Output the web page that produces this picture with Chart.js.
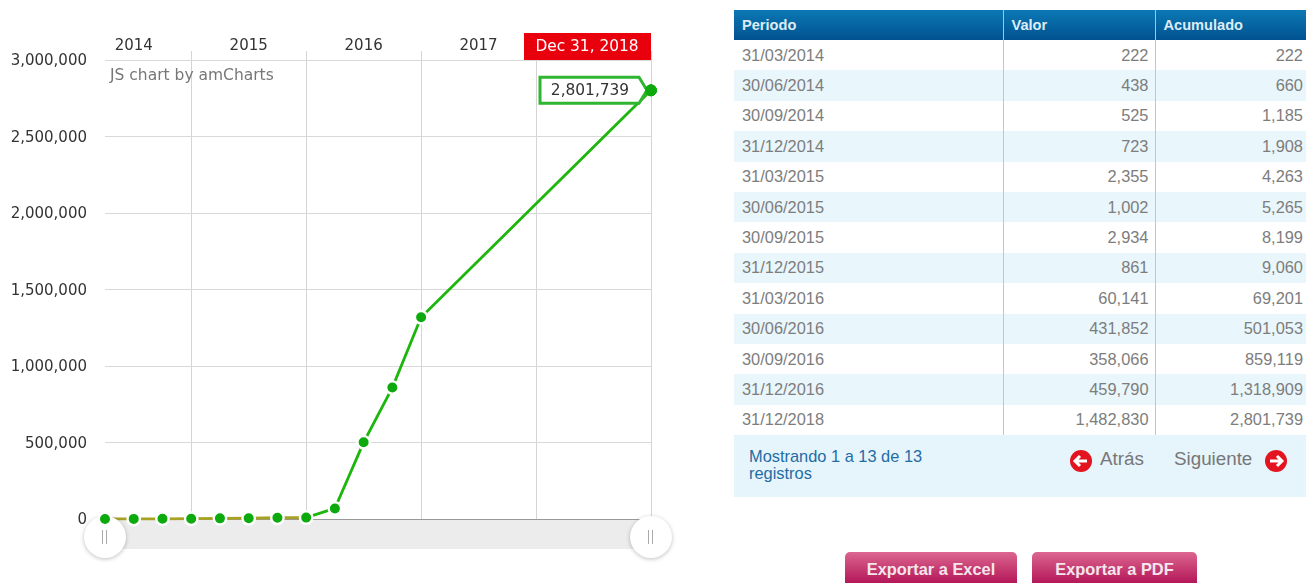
<!DOCTYPE html>
<html>
<head>
<meta charset="utf-8">
<title>Periodo</title>
<script src="https://cdn.jsdelivr.net/npm/chart.js@4"></script>
<style>
html, body { margin: 0; padding: 0; background: #fff; width: 1306px; height: 583px; overflow: hidden; }
#chartBox { position: absolute; left: 0; top: 0; width: 720px; height: 583px; }
#tablaBox { position: absolute; left: 734px; top: 10px; width: 572px; font-family: "Liberation Sans", Arial, sans-serif; }
table { border-collapse: collapse; width: 572px; table-layout: fixed; font-size: 16.4px; color: #7d7d7d; }
th { height: 30px; padding: 0 0 1px 8px; box-sizing: border-box; text-align: left; color: #dcecf6; font-size: 14.6px; background: linear-gradient(#0b78b5, #00528f); border-left: 1px solid #9cc8e6; }
th:first-child { border-left: 0; }
td { height: 30.4px; padding: 0 6px 0 8px; box-sizing: border-box; border-left: 1px solid #9fd0f0; text-align: right; }
td:last-child { padding-right: 3px; }
td:first-child { border-left: 0; text-align: left; }
tr.par td { background: #e9f6fc; }
#pie { position: relative; height: 62px; background: #e6f4fb; color: #777; }
#info { position: absolute; left: 15px; top: 13px; width: 200px; font-size: 16.4px; line-height: 17px; color: #1f6da5; }
.nav { position: absolute; top: 13px; font-size: 18.8px; line-height: 22px; }
.nav svg { position: absolute; top: 2px; }
.boton { position: absolute; top: 552px; height: 40px; box-sizing: border-box; padding-top: 8px; text-align: center; color: #f4e6ec; font: bold 16.4px "Liberation Sans", Arial, sans-serif; border-radius: 5px; background: linear-gradient(#dc6690, #a80048); }
</style>
</head>
<body>
<div id="chartBox"><canvas id="acumChart" width="720" height="583"></canvas></div>

<div id="tablaBox">
    <table>
        <colgroup><col style="width:269px"><col style="width:152px"><col style="width:151px"></colgroup>
        <thead><tr><th>Periodo</th><th>Valor</th><th>Acumulado</th></tr></thead>
        <tbody id="filas"></tbody>
    </table>
    <div id="pie">
        <div id="info">Mostrando 1 a 13 de 13 registros</div>
        <div class="nav" style="left:366px;">Atrás<svg style="left:-30px" width="22" height="22" viewBox="0 0 22 22"><circle cx="11" cy="11" r="11" fill="#e3141f"/><path d="M17 11H6M10 6l-5 5 5 5" stroke="#fff" stroke-width="3" fill="none"/></svg></div>
        <div class="nav" style="left:440px;">Siguiente<svg style="left:91px" width="22" height="22" viewBox="0 0 22 22"><circle cx="11" cy="11" r="11" fill="#e3141f"/><path d="M5 11h11M12 6l5 5-5 5" stroke="#fff" stroke-width="3" fill="none"/></svg></div>
    </div>
</div>

<div class="boton" style="left:845px;width:172px;">Exportar a Excel</div>
<div class="boton" style="left:1032px;width:165px;">Exportar a PDF</div>

<script>
// Quarter axis, 2017 has no rows in the table so those stay null
const quarters = ['Mar 2014', 'Jun 2014', 'Sep 2014', 'Dec 2014', 'Mar 2015', 'Jun 2015', 'Sep 2015', 'Dec 2015',
    'Mar 2016', 'Jun 2016', 'Sep 2016', 'Dec 2016', 'Mar 2017', 'Jun 2017', 'Sep 2017', 'Dec 2017',
    'Mar 2018', 'Jun 2018', 'Sep 2018', 'Dec 2018'];
const accumulated = [222, 660, 1185, 1908, 4263, 5265, 8199, 9060, 69201, 501053, 859119, 1318909,
    null, null, null, null, null, null, null, 2801739];
const yearLabels = ['2014', '2015', '2016', '2017'];
const yTicks = [0, 500000, 1000000, 1500000, 2000000, 2500000, 3000000];
const cursorLabel = 'Dec 31, 2018';
const creditLabel = 'JS chart by amCharts';

// Table rows
const periodos = ['31/03/2014', '30/06/2014', '30/09/2014', '31/12/2014', '31/03/2015', '30/06/2015', '30/09/2015',
    '31/12/2015', '31/03/2016', '30/06/2016', '30/09/2016', '31/12/2016', '31/12/2018'];
const valores = [222, 438, 525, 723, 2355, 1002, 2934, 861, 60141, 431852, 358066, 459790, 1482830];
const acumulados = [222, 660, 1185, 1908, 4263, 5265, 8199, 9060, 69201, 501053, 859119, 1318909, 2801739];

const chartFont = '"DejaVu Sans", Verdana, sans-serif';
const green = '#1db60c';
const lastIndex = accumulated.length - 1;

function fmt(n) {
    return n.toLocaleString('en-US');
}

function buildTable() {
    const body = document.getElementById('filas');
    periodos.forEach((p, i) => {
        const row = document.createElement('tr');
        if (i % 2 === 1) row.className = 'par';
        row.innerHTML = `<td>${p}</td><td>${fmt(valores[i])}</td><td>${fmt(acumulados[i])}</td>`;
        body.appendChild(row);
    });
}

// Scrollbar, cursor label, balloon and credit: amCharts extras with no Chart.js option
const extrasPlugin = {
    id: 'extras',
    beforeDatasetsDraw(chart) {
        const { ctx, chartArea: a } = chart;
        ctx.save();
        ctx.fillStyle = '#ececec';
        ctx.fillRect(a.left, a.bottom + 1, a.right - a.left, 29);
        ctx.strokeStyle = '#999';
        ctx.lineWidth = 1;
        ctx.beginPath();
        ctx.moveTo(a.left, a.bottom + 0.5);
        ctx.lineTo(a.right - 10, a.bottom + 0.5);
        ctx.stroke();
        ctx.restore();
    },
    afterDatasetsDraw(chart) {
        const { ctx, chartArea: a } = chart;
        const meta = chart.getDatasetMeta(0);
        const last = meta.data[lastIndex];

        // slider handles
        [a.left, a.right].forEach(x => {
            ctx.save();
            ctx.shadowColor = 'rgba(0,0,0,0.25)';
            ctx.shadowBlur = 4;
            ctx.shadowOffsetY = 1;
            ctx.fillStyle = '#fff';
            ctx.beginPath();
            ctx.ellipse(x, a.bottom + 18, 21, 21, 0, 0, Math.PI * 2);
            ctx.fill();
            ctx.restore();
            ctx.strokeStyle = '#aaa';
            ctx.lineWidth = 1;
            ctx.beginPath();
            ctx.moveTo(x - 2.5, a.bottom + 11);
            ctx.lineTo(x - 2.5, a.bottom + 25);
            ctx.moveTo(x + 1.5, a.bottom + 11);
            ctx.lineTo(x + 1.5, a.bottom + 25);
            ctx.stroke();
        });
        meta.data[0].draw(ctx, a);

        // cursor date on top of the axis
        ctx.save();
        ctx.fillStyle = '#e8000d';
        ctx.fillRect(a.right - 127, a.top - 27, 127, 27);
        ctx.fillStyle = '#fff';
        ctx.font = '15.4px ' + chartFont;
        ctx.textAlign = 'center';
        ctx.textBaseline = 'middle';
        ctx.fillText(cursorLabel, a.right - 64, a.top - 13);

        // balloon on the last point
        const by = last.y;
        ctx.fillStyle = '#fff';
        ctx.strokeStyle = '#2fb52f';
        ctx.lineWidth = 3;
        ctx.beginPath();
        ctx.moveTo(last.x - 111, by - 13);
        ctx.lineTo(last.x - 12, by - 13);
        ctx.lineTo(last.x - 4, by);
        ctx.lineTo(last.x - 12, by + 13);
        ctx.lineTo(last.x - 111, by + 13);
        ctx.closePath();
        ctx.fill();
        ctx.stroke();
        ctx.fillStyle = '#333';
        ctx.fillText(fmt(accumulated[lastIndex]), last.x - 61, by + 0.5);

        // credit
        ctx.fillStyle = '#777';
        ctx.font = '15.5px ' + chartFont;
        ctx.textAlign = 'left';
        ctx.fillText(creditLabel, a.left + 5, a.top + 16);
        ctx.restore();
        last.draw(ctx, a);
    }
};

function initializeChart() {
    const ctx = document.getElementById('acumChart');
    new Chart(ctx.getContext('2d'), {
        type: 'line',
        data: {
            labels: quarters,
            datasets: [{
                label: 'Acumulado',
                data: accumulated,
                spanGaps: true,
                clip: false,
                borderColor: green,
                borderWidth: 2.8,
                tension: 0,
                pointRadius: c => c.dataIndex === lastIndex ? 5.5 : 6.2,
                pointBackgroundColor: '#0caa0c',
                pointBorderColor: c => c.dataIndex === lastIndex ? '#0caa0c' : '#fff',
                pointBorderWidth: c => c.dataIndex === lastIndex ? 1 : 2.4,
                segment: {
                    borderColor: c => c.p1DataIndex <= 7 ? '#a8a224' : green
                }
            }]
        },
        options: {
            responsive: false,
            animation: false,
            layout: { padding: { left: 0, right: 69, top: 0, bottom: 64 } },
            plugins: { legend: { display: false }, tooltip: { enabled: false } },
            scales: {
                x: {
                    position: 'top',
                    offset: false,
                    afterFit: scale => { scale.height = 60; },
                    border: { display: false },
                    grid: {
                        color: c => c.index % 4 === 3 ? '#d4d4d4' : 'transparent',
                        tickColor: c => c.index % 4 === 3 ? '#d4d4d4' : 'transparent',
                        tickLength: 9
                    },
                    ticks: {
                        autoSkip: false,
                        maxRotation: 0,
                        padding: -4,
                        color: '#333',
                        font: { family: chartFont, size: 15 },
                        callback: (v, i) => i % 4 === 1 ? (yearLabels[(i - 1) / 4] || '') : ''
                    }
                },
                y: {
                    min: 0,
                    max: 3000000,
                    afterFit: scale => { scale.width = 105; },
                    afterBuildTicks: scale => { scale.ticks = yTicks.map(v => ({ value: v })); },
                    border: { display: false },
                    grid: { color: '#d9d9d9', drawTicks: false },
                    ticks: {
                        padding: 18,
                        labelOffset: 1.5,
                        color: '#333',
                        font: { family: chartFont, size: 15 },
                        callback: v => fmt(v)
                    }
                }
            }
        },
        plugins: [extrasPlugin]
    });
}

buildTable();
initializeChart();
</script>
</body>
</html>
